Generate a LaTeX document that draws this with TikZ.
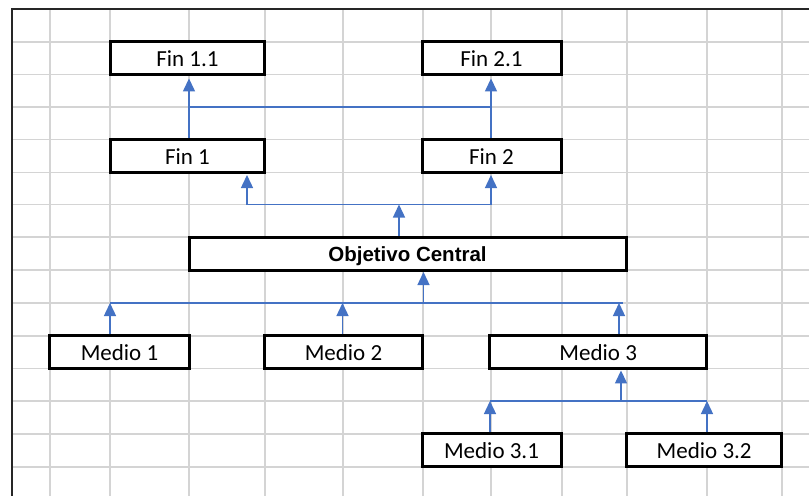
\documentclass[tikz,border=0pt]{standalone}
\usepackage{fontspec}
\setmainfont{Carlito}
\newfontfamily\headfont{Liberation Sans}
\usetikzlibrary{arrows.meta}
\definecolor{gridgray}{HTML}{D4D4D4}
\definecolor{linkblue}{HTML}{4472C4}
\begin{document}
\begin{tikzpicture}[x=1pt,y=-1pt,
  box/.style={draw=black, line width=3pt, fill=white, inner sep=0pt,
    minimum height=32.5pt, text height=17pt, text depth=0pt,
    font=\fontsize{23}{23}\selectfont, anchor=center},
  headbox/.style={box, text height=15pt,
    font={\headfont\bfseries\fontsize{20.5}{20.5}\selectfont}},
  link/.style={draw=linkblue, line width=1.4pt},
  arrow/.style={link, -{Triangle[length=13pt,width=12pt]}},
  gridline/.style={draw=gridgray, line width=1.6pt}]
\useasboundingbox (0,0) rectangle (809,496);
\fill[white] (0,0) rectangle (809,496);

% sheet grid
\foreach \gx in {50,110,189,265,343,423,491,562,627,707,782}
  \draw[gridline] (\gx,9) -- (\gx,496);
\foreach \gy in {42,74.5,107,139.5,172.5,204.5,237,270,303,336,368.5,401,434,467}
  \draw[gridline] (12,\gy) -- (809,\gy);
\draw[line width=1.2pt, black!85] (809,9) -- (12,9) -- (12,496);

% boxes
\node[box, minimum width=154pt] (fin11) at (187.4,58.2) {Fin 1.1};
\node[box, minimum width=139pt] (fin21) at (491.5,58.2) {Fin 2.1};
\node[box, minimum width=154pt, minimum height=33pt] (fin1) at (187.4,156) {Fin 1};
\node[box, minimum width=139pt, minimum height=33pt] (fin2) at (491.5,156) {Fin 2};
\node[headbox, minimum width=437pt, minimum height=33pt] (obj) at (407.5,253.5) {Objetivo Central};
\node[box, minimum width=140pt] (m1) at (119.5,352.2) {Medio 1};
\node[box, minimum width=158pt] (m2) at (343.5,352.2) {Medio 2};
\node[box, minimum width=216.5pt] (m3) at (598.2,352.2) {Medio 3};
\node[box, minimum width=139pt] (m31) at (491.5,450.2) {Medio 3.1};
\node[box, minimum width=154.5pt] (m32) at (704.2,450.2) {Medio 3.2};

% junction points on the connector bars
\coordinate (t1) at (189,107);
\coordinate (t2) at (491,107);
\coordinate (u1) at (247,204.5);
\coordinate (u2) at (491,204.5);
\coordinate (u0) at (399,204.5);
\coordinate (v1) at (110,303);
\coordinate (v2) at (342.5,303);
\coordinate (v3) at (619,303);
\coordinate (v0) at (423.5,303);
\coordinate (w1) at (490,401);
\coordinate (w2) at (707,401);
\coordinate (w0) at (621,401);

% Fin -> Fin x.1
\draw[link] (t1) -- (t2);
\draw[arrow] (t1 |- fin1.north) -- ([yshift=-2.5pt]t1 |- fin11.south);
\draw[arrow] (t2 |- fin2.north) -- ([yshift=-2.5pt]t2 |- fin21.south);

% Objetivo Central -> Fin
\draw[link] (u1) -- (u2);
\draw[arrow] (u1) -- ([yshift=-1pt]u1 |- fin1.south);
\draw[arrow] (u2) -- ([yshift=-1pt]u2 |- fin2.south);
\draw[arrow] (u0 |- obj.north) -- (u0);

% Medio -> Objetivo Central
\draw[link] (v1) -- ([xshift=4pt]v3);
\draw[arrow] (v1 |- m1.north) -- (v1);
\draw[arrow] (v2 |- m2.north) -- (v2);
\draw[arrow] (v3 |- m3.north) -- (v3);
\draw[arrow] (v0) -- ([yshift=-0.5pt]v0 |- obj.south);

% Medio 3.x -> Medio 3
\draw[link] (w1) -- (w2);
\draw[arrow] (w1 |- m31.north) -- (w1);
\draw[arrow] (w2 |- m32.north) -- (w2);
\draw[arrow] (w0) -- ([yshift=-0.5pt]w0 |- m3.south);
\end{tikzpicture}
\end{document}
